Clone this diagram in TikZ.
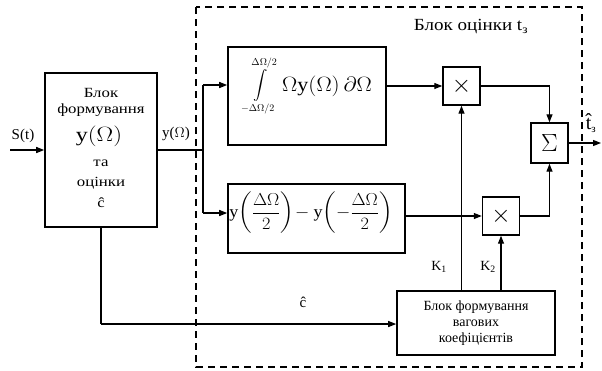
\documentclass[tikz,border=0pt]{standalone}
\usepackage{amsmath}
\usepackage{fontspec}
\setmainfont{Liberation Serif}
\usetikzlibrary{arrows.meta}
\tikzset{
  blk/.style={draw, line width=1.6pt, inner sep=0pt, align=center},
  opbox/.style={draw, line width=1.4pt, minimum width=37pt, minimum height=38pt, inner sep=0pt},
  conn/.style={line width=1.2pt},
  arr/.style={conn, -{Triangle[length=8pt,width=6pt]}},
  lbl/.style={inner sep=0pt},
  wide/.style={inner sep=0pt, xscale=1.2},
}
\newcommand{\opfont}{\fontsize{24}{24}\selectfont}
\begin{document}
\begin{tikzpicture}[x=1pt,y=-1pt,font=\fontsize{14}{16}\selectfont]
\useasboundingbox (0,0) rectangle (602,370);
% dashed frame
\draw[line width=1.3pt, dash pattern=on 7pt off 5pt] (196,7) rectangle (582,367);
\node[lbl, font=\fontsize{17}{18}\selectfont, xscale=1.12] (title) at (471,27) {Блок оцінки t\textsubscript{з}};
% left block
\node[blk, minimum width=112pt, minimum height=154pt] (L) at (101,150) {};
\node[wide] (l1) at (101,93) {Блок};
\node[wide] (l2) at (101,110) {формування};
\node[wide, font=\fontsize{20}{20}\selectfont] (l3) at (99,136) {$\mathrm{y}\!\left(\Omega\right)$};
\node[wide] (l4) at (101,163) {та};
\node[wide] (l5) at (101,183) {оцінки};
\node[wide] (l6) at (101,203) {ĉ};
% integral box
\node[blk, minimum width=158pt, minimum height=98pt] (I) at (307,96) {};
\node[lbl, font=\fontsize{14}{14}\selectfont] (Is) at (261,86) {$\displaystyle\int\limits_{\scriptstyle-\Delta\Omega/2}^{\scriptstyle\Delta\Omega/2}$};
\node[lbl, font=\fontsize{20}{20}\selectfont, xscale=1.1, anchor=west] (Ie) at (282,86) {$\Omega\mathrm{y}\!\left(\Omega\right)\partial\Omega$};
% difference box
\node[blk, minimum width=177pt, minimum height=69pt] (D) at (316.5,218.5) {};
\node[lbl, font=\fontsize{17}{18}\selectfont, xscale=1.06] (De) at (311,213) {$\mathrm{y}\!\left(\dfrac{\Delta\Omega}{2}\right)\!-\mathrm{y}\!\left(-\dfrac{\Delta\Omega}{2}\right)$};
% operators
\node[opbox] (M1) at (461.5,86) {\opfont$\times$};
\node[opbox] (M2) at (501,216) {\opfont$\times$};
\node[opbox, minimum height=40pt] (S) at (549.5,143) {\opfont$\Sigma$};
% weights block
\node[blk, minimum width=158pt, minimum height=64pt] (W) at (476,323) {};
\node[lbl, align=center] (We) at (476,323) {Блок формування\\ вагових\\ коефіцієнтів};
% connectors
\coordinate (sin) at (10,150);
\coordinate (br) at (203,150);
\coordinate (brT) at (203,85);
\coordinate (brB) at (203,213);
\coordinate (out) at (601,143);
\coordinate (cc) at (102,324);
\draw[arr] (sin) -- (L.west |- sin);
\node[lbl, font=\fontsize{15}{16}\selectfont] (st) at (23,136) {S(t)};
\draw[conn] (L.east |- br) -- (br);
\node[lbl, font=\fontsize{15}{16}\selectfont] (yo) at (176,134) {y($\Omega$)};
\draw[conn] (brT) -- (brB);
\draw[arr] (brT) -- (I.west |- brT);
\draw[arr] (brB) -- (D.west |- brB);
\draw[arr] (I.east |- M1) -- (M1.west);
\draw[arr] (D.east |- M2) -- (M2.west);
\draw[arr] (M1.east) -| (S.north);
\draw[arr] (M2.east) -| (S.south);
\draw[arr] (S.east) -- (out);
\node[lbl] (th) at (591,123) {\fontsize{20}{20}\selectfont\^t\textsubscript{\fontsize{11}{11}\selectfont з}};
\draw[arr] (M1.south |- W.north) -- (M1.south);
\draw[arr] (M2.south |- W.north) -- (M2.south);
\node[lbl] (k1) at (439,267) {K\textsubscript{1}};
\node[lbl] (k2) at (488,267) {K\textsubscript{2}};
\draw[conn] (L.south) -- (cc -| L.south);
\draw[arr] (cc -| L.south) -- (W.west |- cc);
\node[lbl, font=\fontsize{15}{16}\selectfont] (ch) at (303,302) {ĉ};
\end{tikzpicture}
\end{document}
